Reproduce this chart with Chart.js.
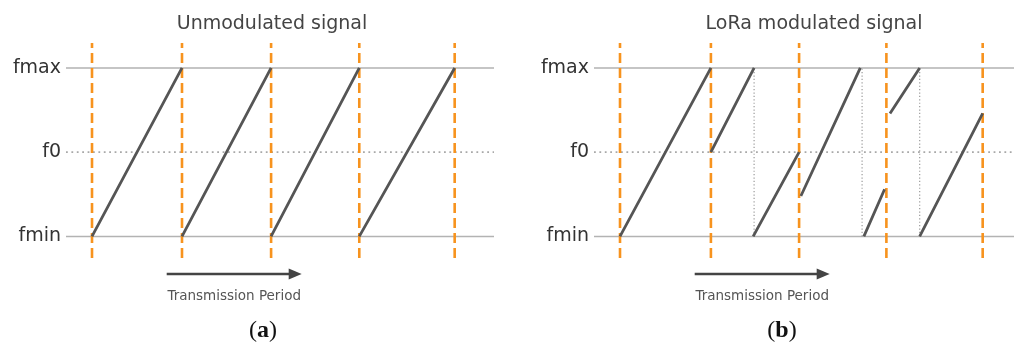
<!DOCTYPE html>
<html>
<head>
<meta charset="utf-8">
<script src="https://cdn.jsdelivr.net/npm/chart.js@4"></script>
<style>
  body { margin: 0; background: #fff; }
  .wrap { display: flex; width: 1014px; height: 349px; }
  .panel { width: 507px; height: 349px; position: relative; }
</style>
</head>
<body>
<div class="wrap">
  <div class="panel"><canvas id="unmod" width="507" height="349"></canvas></div>
  <div class="panel"><canvas id="lora" width="507" height="349"></canvas></div>
</div>
<script>
// frequency levels (normalised: fmin = 0, fmax = 1)
const levelValues = [0, 0.5, 1];
const levelLabels = ['fmin', 'f0', 'fmax'];

// symbol boundaries (time in symbol periods)
const unmodBoundaries = [0, 1, 1.99, 2.97, 4.03];
const loraBoundaries = [0, 1.01, 1.99, 2.96, 4.03];

// chirp segments: [t start, f start, t end, f end]
const unmodChirps = [
    [0, 0, 1, 1],
    [1, 0, 1.99, 1],
    [1.99, 0, 2.97, 1],
    [2.97, 0, 4.03, 1]
];
const loraChirps = [
    [0, 0, 1.01, 1],
    [1.01, 0.5, 1.49, 1],
    [1.48, 0, 1.99, 0.5],
    [2.01, 0.24, 2.67, 1],
    [2.71, 0, 2.94, 0.28],
    [3.0, 0.73, 3.33, 1],
    [3.33, 0, 4.03, 0.73]
];
// frequency wrap-around points (fmax back to fmin)
const loraWraps = [1.49, 2.69, 3.33];

function segmentsToData(segs) {
    var out = [];
    segs.forEach(function (s) {
        out.push({x: s[0], y: s[1]}, {x: s[2], y: s[3]}, {x: s[2], y: null});
    });
    return out;
}

function creaPannello(id, cfg) {
    var yMin = -0.128, yMax = 1.148;
    var datasets = [];

    // fmin / fmax solid lines
    datasets.push({
        data: [{x: cfg.xMin, y: 0}, {x: cfg.xMax, y: 0}, {x: cfg.xMax, y: null},
               {x: cfg.xMin, y: 1}, {x: cfg.xMax, y: 1}],
        borderColor: '#b3b3b3', borderWidth: 1.6, order: 5
    });
    // f0 dotted line
    datasets.push({
        data: [{x: cfg.xMin, y: 0.5}, {x: cfg.xMax, y: 0.5}],
        borderColor: '#a8a8a8', borderWidth: 1.8, borderDash: [1.8, 3.6], order: 4
    });
    // wrap-around dotted verticals
    if (cfg.wraps.length) {
        datasets.push({
            data: segmentsToData(cfg.wraps.map(t => [t, 0, t, 1])),
            borderColor: '#9a9a9a', borderWidth: 1.2, borderDash: [1.2, 2.2], order: 3
        });
    }
    // orange symbol boundaries
    datasets.push({
        data: segmentsToData(cfg.boundaries.map(t => [t, yMin, t, yMax])),
        borderColor: '#f7931e', borderWidth: 2.6, borderDash: [10, 5], order: 2
    });
    // chirps
    datasets.push({
        data: segmentsToData(cfg.chirps),
        borderColor: '#555555', borderWidth: 2.8, borderCapStyle: 'butt', order: 1
    });

    var ctx = document.getElementById(id).getContext('2d');
    new Chart(ctx, {
        type: 'line',
        data: { datasets: datasets },
        options: {
            responsive: false,
            animation: false,
            spanGaps: false,
            elements: { point: { radius: 0 }, line: { tension: 0 } },
            layout: { padding: { top: 43, bottom: 91, left: 0, right: cfg.padRight } },
            plugins: { legend: { display: false }, tooltip: { enabled: false } },
            scales: {
                x: { type: 'linear', min: cfg.xMin, max: cfg.xMax, display: false },
                y: {
                    type: 'linear', min: yMin, max: yMax,
                    grid: { display: false, drawTicks: false, tickLength: 0 },
                    border: { display: false },
                    afterBuildTicks: function (scale) {
                        scale.ticks = levelValues.map(v => ({value: v}));
                    },
                    afterFit: function (scale) { scale.width = cfg.axisWidth; },
                    ticks: {
                        padding: 5,
                        color: '#333',
                        font: { family: 'DejaVu Sans', size: 19 },
                        callback: function (v) {
                            var i = levelValues.indexOf(v);
                            return i >= 0 ? levelLabels[i] : '';
                        }
                    }
                }
            }
        },
        plugins: [{
            id: 'annotazioni',
            afterDraw: function (chart) {
                var c = chart.ctx, x = chart.scales.x, area = chart.chartArea;
                c.save();
                // title
                c.fillStyle = '#444';
                c.font = '19px "DejaVu Sans"';
                c.textAlign = 'center';
                c.textBaseline = 'alphabetic';
                c.fillText(cfg.title, cfg.titleX, 29);

                // transmission period arrow
                var x0 = x.getPixelForValue(0.83), x1 = x.getPixelForValue(2.33), ay = area.bottom + 16;
                c.strokeStyle = '#444';
                c.fillStyle = '#444';
                c.lineWidth = 2.6;
                c.beginPath();
                c.moveTo(x0, ay);
                c.lineTo(x1 - 10, ay);
                c.stroke();
                c.beginPath();
                c.moveTo(x1, ay);
                c.lineTo(x1 - 13, ay - 5.5);
                c.lineTo(x1 - 13, ay + 5.5);
                c.closePath();
                c.fill();

                c.fillStyle = '#555';
                c.font = '13.5px "DejaVu Sans"';
                c.fillText('Transmission Period', (x0 + x1) / 2, area.bottom + 42);

                // panel letter "(a)" / "(b)"
                var ly = area.bottom + 79;
                var fs = 24;
                c.fillStyle = '#111';
                c.font = fs + 'px "Liberation Serif"';
                var wp = c.measureText('(').width;
                c.font = 'bold ' + fs + 'px "Liberation Serif"';
                var wl = c.measureText(cfg.letter).width;
                var start = cfg.letterX - (2 * wp + wl) / 2;
                c.textAlign = 'left';
                c.font = fs + 'px "Liberation Serif"';
                c.fillText('(', start, ly);
                c.font = 'bold ' + fs + 'px "Liberation Serif"';
                c.fillText(cfg.letter, start + wp, ly);
                c.font = fs + 'px "Liberation Serif"';
                c.fillText(')', start + wp + wl, ly);
                c.restore();
            }
        }]
    });
}

creaPannello('unmod', {
    title: 'Unmodulated signal', titleX: 272, letter: 'a', letterX: 263,
    boundaries: unmodBoundaries, chirps: unmodChirps, wraps: [],
    xMin: -0.289, xMax: 4.467, axisWidth: 66, padRight: 13
});
creaPannello('lora', {
    title: 'LoRa modulated signal', titleX: 307, letter: 'b', letterX: 275,
    boundaries: loraBoundaries, chirps: loraChirps, wraps: loraWraps,
    xMin: -0.289, xMax: 4.378, axisWidth: 87, padRight: 0
});
</script>
</body>
</html>
